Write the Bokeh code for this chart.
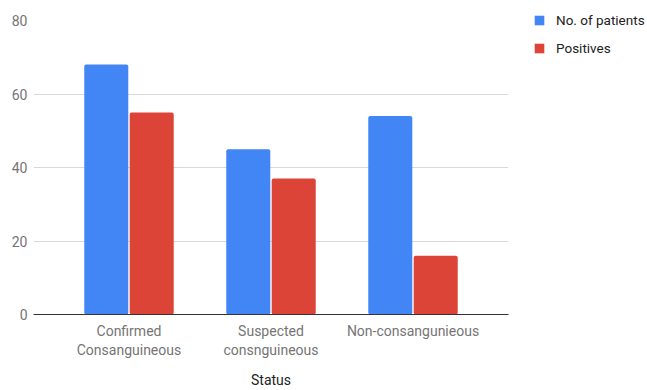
from bokeh.plotting import figure
from bokeh.models import FactorRange, Legend, LegendItem, ColumnDataSource, SingleIntervalTicker
from bokeh.transform import dodge
from bokeh.embed import file_html
from bokeh.resources import INLINE

categories = ["Confirmed\nConsanguineous", "Suspected\nconsnguineous", "Non-consangunieous"]
patients = [68, 45, 54]
positives = [55, 37, 16]
series_names = ["No. of patients", "Positives"]
colors = ["#4285F4", "#DB4437"]

src = ColumnDataSource(dict(cat=categories, patients=patients, positives=positives))

p = figure(x_range=FactorRange(*categories, range_padding=0.115),
           y_range=(0, 80),
           frame_width=475, frame_height=294,
           width=647, height=390,
           min_border_left=33, min_border_top=20, min_border_right=10, min_border_bottom=10,
           output_backend="svg", toolbar_location=None)

r1 = p.vbar(x=dodge("cat", -0.16, range=p.x_range), top="patients", width=0.31,
            source=src, color=colors[0], line_color=None, border_radius=2)
r2 = p.vbar(x=dodge("cat", 0.16, range=p.x_range), top="positives", width=0.31,
            source=src, color=colors[1], line_color=None, border_radius=2)

p.outline_line_color = None
p.xgrid.grid_line_color = None
p.ygrid.grid_line_color = "#d9d9d9"
p.ygrid.grid_line_width = 1
p.yaxis.ticker = SingleIntervalTicker(interval=20)
p.yaxis.axis_line_color = None
p.yaxis.major_tick_line_color = None
p.yaxis.minor_tick_line_color = None
p.yaxis.major_tick_out = 0
p.yaxis.minor_tick_out = 0
p.yaxis.major_label_standoff = 6
p.xaxis.axis_line_color = "#333333"
p.xaxis.axis_line_width = 1
p.xaxis.major_tick_line_color = None
p.xaxis.minor_tick_line_color = None
p.xaxis.major_tick_out = 0
p.xaxis.minor_tick_out = 0
p.xaxis.major_label_standoff = 8
for ax in (p.xaxis, p.yaxis):
    ax.major_label_text_font = "Roboto"
    ax.major_label_text_font_size = "14px"
    ax.major_label_text_color = "#757575"
p.xaxis.axis_label = "Status"
p.xaxis.axis_label_text_font = "Roboto"
p.xaxis.axis_label_text_font_size = "14px"
p.xaxis.axis_label_text_font_style = "normal"
p.xaxis.axis_label_text_color = "#222222"
p.xaxis.axis_label_standoff = 11

legend = Legend(items=[LegendItem(label=series_names[0], renderers=[r1]),
                       LegendItem(label=series_names[1], renderers=[r2])],
                location=(25, 256), orientation="vertical",
                border_line_color=None, background_fill_alpha=0,
                glyph_width=12, glyph_height=12, label_height=20, spacing=8,
                label_text_font="Roboto", label_text_font_size="13.5px",
                label_text_color="#222222", label_standoff=11,
                padding=0, margin=0)
p.add_layout(legend, "right")

open("out.html", "w").write(file_html(p, INLINE))
